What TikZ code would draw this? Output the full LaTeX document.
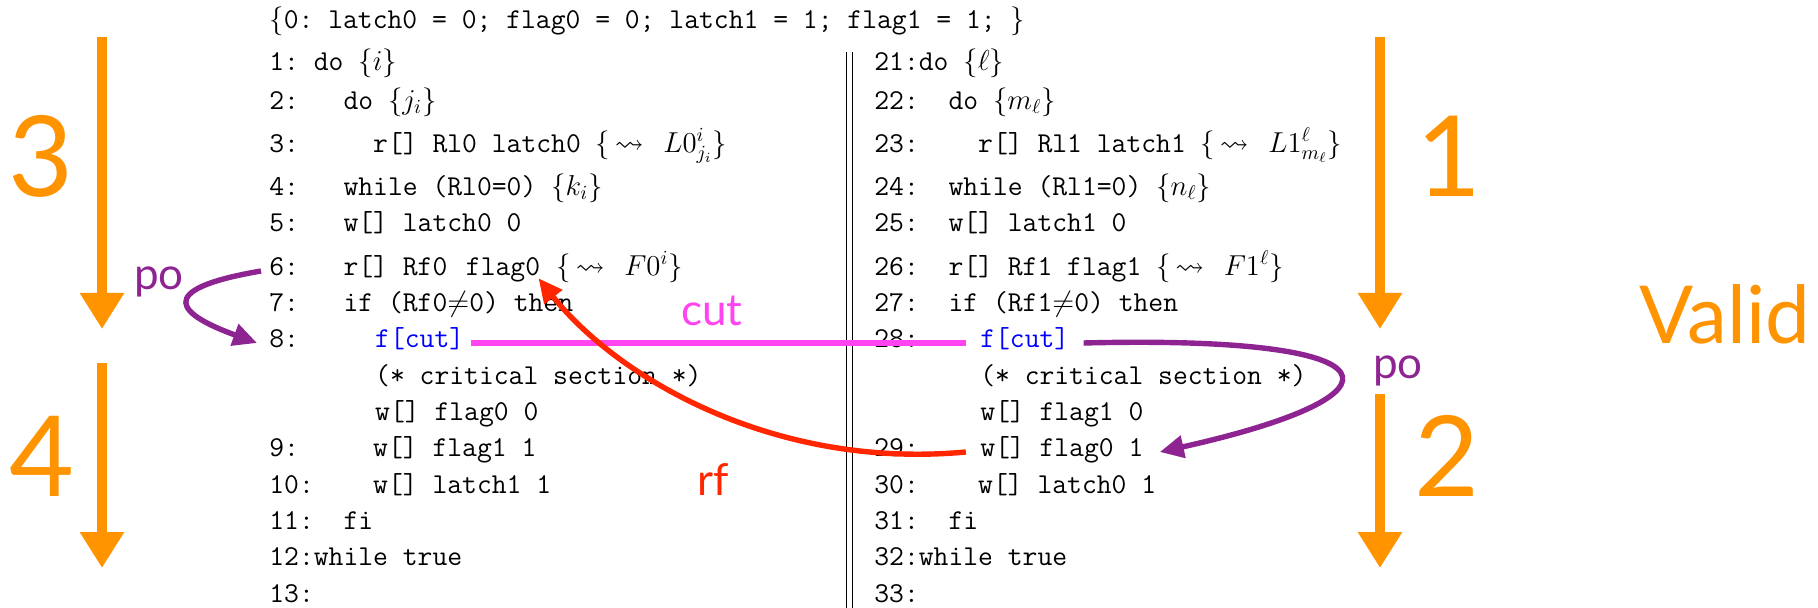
\documentclass[tikz,border=0pt]{standalone}
\usepackage{amssymb}
\usepackage{fontspec}
\newfontfamily\lblfont{Lato}
\usetikzlibrary{arrows.meta}

\definecolor{orng}{RGB}{255,147,0}
\definecolor{purp}{RGB}{142,36,145}
\definecolor{pnk}{RGB}{255,68,240}
\definecolor{rfred}{RGB}{255,38,0}
\definecolor{cutblue}{RGB}{0,0,255}

\newcommand\codefont{\fontsize{14.4}{18}\selectfont\ttfamily}
% annotation of a read: {~> X}
\newcommand\rd[1]{$\{\,\leadsto\,$\ $#1\}$}

\begin{document}
\begin{tikzpicture}[x=0.5pt,y=-0.5pt,
  code/.style={anchor=mid west,inner sep=0pt,font=\codefont},
  fence/.style={code,text=cutblue},
  bignum/.style={anchor=base,inner sep=0pt,text=orng,font=\lblfont\fontsize{56}{56}\selectfont},
  verdict/.style={anchor=base,inner sep=0pt,text=orng,font=\lblfont\fontsize{40}{40}\selectfont},
  rellabel/.style={anchor=base,inner sep=0pt,font=\lblfont\fontsize{22}{22}\selectfont},
  stagearrow/.style={orng,line width=4.8pt,-{Triangle[length=18pt,width=21pt]}},
  poarrow/.style={purp,line width=2.7pt,-{Triangle[length=12pt,width=11pt]}},
  rfarrow/.style={rfred,line width=2.7pt,-{Triangle[length=12pt,width=11pt]}},
  cutline/.style={pnk,line width=2.7pt},
  sepline/.style={black,line width=0.5pt}]

\path[use as bounding box] (0,0) rectangle (1818,608);

% one character of code is 15.12 units wide
% initial state
\node[code] (init) at (269,24) {$\{$0:\ latch0\ =\ 0;\ flag0\ =\ 0;\ latch1\ =\ 1;\ flag1\ =\ 1;\ $\}$};

% thread 0
\node[code] (a1)  at (269,66)  {1:\ do\ $\{i\}$};
\node[code] (a2)  at (269,105) {2:\ \ \ do\ $\{j_i\}$};
\node[code] (a3)  at (269,148) {3:\ \ \ \ \ r[]\ Rl0\ latch0\ \rd{L0^{i}_{j_i}}};
\node[code] (a4)  at (269,191) {4:\ \ \ while\ (Rl0=0)\ $\{k_i\}$};
\node[code] (a5)  at (269,227) {5:\ \ \ w[]\ latch0\ 0};
\node[code] (a6)  at (269,271) {6:\ \ \ r[]\ Rf0};
\node[code] (a6f) at (269+13*15.12,271) {flag0};
\node[code] (a6r) at (269+19*15.12,271) {\rd{F0^{i}}};
\node[code] (a7)  at (269,307) {7:\ \ \ if\ (Rf0$\neq$0)\ then};
\node[code] (a8)  at (269,343) {8:};
\node[fence] (a8f) at (269+7*15.12,343) {f[cut]};
\node[code] (a8c) at (269+7*15.12,380) {(*\ critical\ section\ *)};
\node[code] (a8w) at (269+7*15.12,416) {w[]\ flag0\ 0};
\node[code] (a9)  at (269,452) {9:\ \ \ \ \ w[]\ flag1\ 1};
\node[code] (a10) at (269,489) {10:\ \ \ \ w[]\ latch1\ 1};
\node[code] (a11) at (269,525) {11:\ \ fi};
\node[code] (a12) at (269,561) {12:while\ true};
\node[code] (a13) at (269,598) {13:};

% thread 1
\node[code] (b21)  at (874,66)  {21:do\ $\{\ell\}$};
\node[code] (b22)  at (874,105) {22:\ \ do\ $\{m_\ell\}$};
\node[code] (b23)  at (874,148) {23:\ \ \ \ r[]\ Rl1\ latch1\ \rd{L1^{\ell}_{m_\ell}}};
\node[code] (b24)  at (874,191) {24:\ \ while\ (Rl1=0)\ $\{n_\ell\}$};
\node[code] (b25)  at (874,227) {25:\ \ w[]\ latch1\ 0};
\node[code] (b26)  at (874,271) {26:\ \ r[]\ Rf1\ flag1\ \rd{F1^{\ell}}};
\node[code] (b27)  at (874,307) {27:\ \ if\ (Rf1$\neq$0)\ then};
\node[code] (b28)  at (874,343) {28:};
\node[fence] (b28f) at (874+7*15.12,343) {f[cut]};
\node[code] (b28c) at (874+7*15.12,380) {(*\ critical\ section\ *)};
\node[code] (b28w) at (874+7*15.12,416) {w[]\ flag1\ 0};
\node[code] (b29)  at (874,452) {29:};
\node[code] (b29w) at (874+7*15.12,452) {w[]\ flag0\ 1};
\node[code] (b30)  at (874,489) {30:\ \ \ \ w[]\ latch0\ 1};
\node[code] (b31)  at (874,525) {31:\ \ fi};
\node[code] (b32)  at (874,561) {32:while\ true};
\node[code] (b33)  at (874,598) {33:};

% parallel composition bar
\draw[sepline] (846,52) -- (846,608);
\draw[sepline] (852,52) -- (852,608);

% execution stages
\coordinate (s3a) at (102,37);  \coordinate (s3b) at (102,329);
\coordinate (s4a) at (102,363); \coordinate (s4b) at (102,568);
\coordinate (s1a) at (1380,37); \coordinate (s1b) at (1380,329);
\coordinate (s2a) at (1380,394); \coordinate (s2b) at (1380,568);
\draw[stagearrow] (s3a) -- (s3b);
\draw[stagearrow] (s4a) -- (s4b);
\draw[stagearrow] (s1a) -- (s1b);
\draw[stagearrow] (s2a) -- (s2b);
\node[bignum] (n3) at (41,197) {3};
\node[bignum] (n4) at (42,496) {4};
\node[bignum] (n1) at (1449,197) {1};
\node[bignum] (n2) at (1447,496) {2};
\node[verdict] (valid) at (1725,344) {Valid};

% relations
\draw[cutline] ([xshift=3pt]a8f.mid east) -- ([xshift=-7pt]b28f.mid west);
\draw[rfarrow] ([xshift=-7pt]b29w.mid west) .. controls (770,470) and (615,375) .. ([xshift=-1pt,yshift=2pt]a6f.south east);
\draw[poarrow] ([xshift=-4pt]a6.mid west) .. controls (150,290) and (180,315) .. ([xshift=-6pt]a8.mid west);
\draw[poarrow] ([xshift=7pt]b28f.mid east) .. controls (1405,335) and (1415,395) .. ([xshift=8pt]b29w.mid east);

\node[rellabel,text=purp] (po0) at (159,290) {po};
\node[rellabel,text=purp] (po1) at (1398,379) {po};
\node[rellabel,text=pnk] (cutlbl) at (712,326) {cut};
\node[rellabel,text=rfred] (rflbl) at (713,495) {rf};

\end{tikzpicture}
\end{document}
